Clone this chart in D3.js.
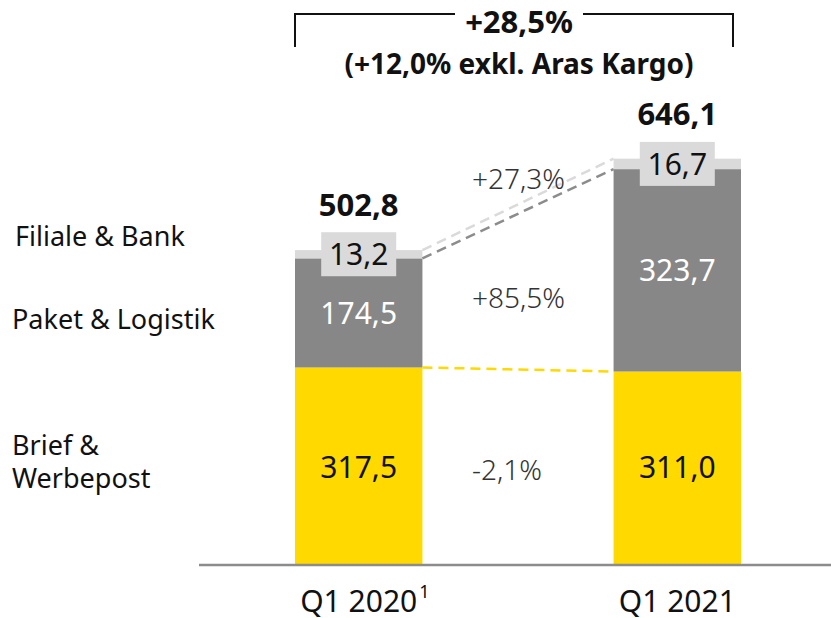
<!DOCTYPE html>
<html>
<head>
<meta charset="utf-8">
<script src="https://cdn.jsdelivr.net/npm/d3@7"></script>
<style>
  body { margin: 0; background: #fff; }
  svg text { font-family: "Noto Sans", Roboto, sans-serif; }
</style>
</head>
<body>
<svg id="chart" width="831" height="618"></svg>
<script>
// data
const quarters = ["Q1 2020", "Q1 2021"];
const segments = ["Brief & Werbepost", "Paket & Logistik", "Filiale & Bank"];
const brief = [317.5, 311.0];
const paket = [174.5, 323.7];
const filiale = [13.2, 16.7];
const totals = ["502,8", "646,1"];
const changes = ["-2,1%", "+85,5%", "+27,3%"];
const headline = "+28,5%";
const subline = "(+12,0% exkl. Aras Kargo)";

const colors = ["#ffd900", "#878787", "#dadada"];
const dashColors = ["#ffd900", "#8c8c8c", "#dadada"];

let chart = d3.select("#chart");

let x = d3.scaleBand()
    .domain(quarters)
    .range([295, 741])
    .paddingInner(0.6)
    .paddingOuter(0);

let y = d3.scaleLinear()
    .domain([0, 646.1])
    .range([566, 162]);

// build stacked rows
let rows = quarters.map(function(q, i) {
    return { q: q, b: brief[i], p: paket[i], f: filiale[i] };
});
let stack = d3.stack().keys(["b", "p", "f"])(rows);

let fmt = function(v) { return d3.format(".1f")(v).replace(".", ","); };

// bars
stack.forEach(function(layer, li) {
    chart.selectAll(".bar" + li)
        .data(layer).enter()
        .append("rect")
        .attr("x", function(d) { return x(d.data.q); })
        .attr("y", function(d) { return y(d[1]); })
        .attr("width", x.bandwidth())
        .attr("height", function(d) { return y(d[0]) - y(d[1]); })
        .attr("fill", colors[li]);
});

// dashed connectors
stack.forEach(function(layer, li) {
    chart.append("line")
        .attr("x1", x(quarters[0]) + x.bandwidth())
        .attr("y1", y(layer[0][1]))
        .attr("x2", x(quarters[1]))
        .attr("y2", y(layer[1][1]))
        .attr("stroke", dashColors[li])
        .attr("stroke-width", 2.5)
        .attr("stroke-dasharray", "10,6");
});

// axis line
chart.append("line")
    .attr("x1", 199).attr("x2", 831)
    .attr("y1", 565).attr("y2", 565)
    .attr("stroke", "#8c8c8c")
    .attr("stroke-width", 2.5);

let cx = function(q) { return x(q) + x.bandwidth() / 2; };

// value labels yellow + grey
chart.selectAll(".lblB")
    .data(stack[0]).enter()
    .append("text")
    .attr("x", function(d) { return cx(d.data.q); })
    .attr("y", 478)
    .attr("text-anchor", "middle")
    .style("font-size", "30px")
    .style("fill", "#111")
    .text(function(d) { return fmt(d.data.b); });

chart.selectAll(".lblP")
    .data(stack[1]).enter()
    .append("text")
    .attr("x", function(d) { return cx(d.data.q); })
    .attr("y", function(d) { return (y(d[0]) + y(d[1])) / 2 + 11; })
    .attr("text-anchor", "middle")
    .style("font-size", "30px")
    .style("fill", "#fff")
    .text(function(d) { return fmt(d.data.p); });

// filiale boxes
stack[2].forEach(function(d) {
    let my = (y(d[0]) + y(d[1])) / 2;
    chart.append("rect")
        .attr("x", cx(d.data.q) - 37.5)
        .attr("y", my - 22)
        .attr("width", 75)
        .attr("height", 44)
        .attr("fill", "#dadada");
    chart.append("text")
        .attr("x", cx(d.data.q))
        .attr("y", my + 11)
        .attr("text-anchor", "middle")
        .style("font-size", "30px")
        .style("fill", "#111")
        .text(fmt(d.data.f));
});

// totals
stack[2].forEach(function(d, i) {
    chart.append("text")
        .attr("x", cx(d.data.q))
        .attr("y", y(d[1]) - 34)
        .attr("text-anchor", "middle")
        .style("font-size", "31px")
        .style("font-weight", "700")
        .style("fill", "#111")
        .text(totals[i]);
});

// change labels
let changeY = [480, 308, 189];
chart.selectAll(".chg")
    .data(changes).enter()
    .append("text")
    .attr("x", 472)
    .attr("y", function(d, i) { return changeY[i]; })
    .style("font-size", "28px")
    .style("font-weight", "300")
    .style("fill", "#333")
    .text(function(d) { return d; });

// segment names on the left
let legendLines = [["Brief &", "Werbepost"], ["Paket & Logistik"], ["Filiale & Bank"]];
let legendY = [455, 329, 246];
let legendX = [12, 12, 15];
legendLines.forEach(function(lines, i) {
    let t = chart.append("text")
        .attr("x", legendX[i])
        .attr("y", legendY[i])
        .style("font-size", "27px")
        .style("fill", "#111");
    lines.forEach(function(s, j) {
        t.append("tspan")
            .attr("x", legendX[i])
            .attr("dy", j === 0 ? 0 : 33)
            .text(s);
    });
});

// x labels
quarters.forEach(function(q, i) {
    let t = chart.append("text")
        .attr("x", cx(q))
        .attr("y", 612)
        .attr("text-anchor", "middle")
        .style("font-size", "30px")
        .style("fill", "#111")
        .text(q);
    if (i === 0) {
        let bb = t.node().getBBox();
        chart.append("text")
            .attr("x", bb.x + bb.width + 2)
            .attr("y", 598)
            .style("font-size", "18px")
            .style("fill", "#111")
            .text("1");
    }
});

// bracket + headline
let bx0 = x(quarters[0]), bx1 = x(quarters[1]) + x.bandwidth() - 8;
chart.append("path")
    .attr("d", "M" + bx0 + ",47V14H455M583,14H" + bx1 + "V47")
    .attr("fill", "none")
    .attr("stroke", "#111")
    .attr("stroke-width", 2);

chart.append("text")
    .attr("x", 519)
    .attr("y", 33)
    .attr("text-anchor", "middle")
    .style("font-size", "31px")
    .style("font-weight", "700")
    .style("fill", "#111")
    .text(headline);

chart.append("text")
    .attr("x", 519)
    .attr("y", 74)
    .attr("text-anchor", "middle")
    .style("font-size", "28px")
    .style("font-weight", "700")
    .style("fill", "#111")
    .text(subline);
</script>
</body>
</html>
